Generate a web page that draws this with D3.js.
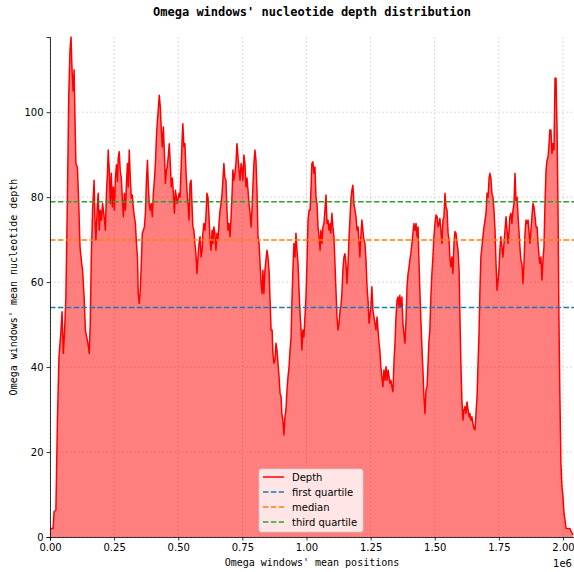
<!DOCTYPE html>
<html>
<head>
<meta charset="utf-8">
<script src="https://cdn.jsdelivr.net/npm/d3@7"></script>
<style>
  html, body { margin: 0; padding: 0; background: #fff; }
  svg { display: block; }
</style>
</head>
<body>
<svg id="chart" width="574" height="572"></svg>
<script>
// ---- Data (positions in kb, mean depth) ----
const depthSeries = [
[0,2],[12,2],[16,6],[23,6.3],[29,27.5],[35,42.4],[42,47.9],[47,53],[52,43.2],[57,48.7],[62,56.5],[68,80],[73,103.6],[78,114.6],[82,117.7],[86,109.9],[90,105],[94,110],[97,99.7],[101,87.9],[107,87],[112,78.5],[117,68.3],[122,65.2],[127,62.8],[133,56.5],[138,48.7],[143,47.1],[148,45.6],[153,43.2],[157,50.3],[161,65.6],[166,76.9],[172,84],[175,75.4],[179,69.9],[185,78.5],[188,80.9],[192,72.2],[196,76.9],[200,74.6],[205,78.5],[211,75.4],[216,72.2],[220,80.9],[224,85.6],[227,91.1],[231,86.4],[235,78.5],[239,85.6],[243,77.7],[247,82.4],[251,76.9],[255,84.5],[259,87.6],[263,83.7],[266,89.2],[270,90.7],[274,86.1],[278,84.5],[282,79.8],[286,75.4],[290,80.9],[294,76.9],[298,83.2],[302,87.9],[305,82.4],[309,91.1],[313,84.5],[317,79.8],[321,80.5],[325,77.4],[329,75.4],[333,73.8],[337,69.1],[341,66],[344,57.3],[348,55],[352,58.1],[356,64.4],[360,71.5],[364,72.2],[368,73],[372,76.2],[376,84],[380,88.7],[383,83.2],[387,78.5],[391,76.9],[395,78.5],[399,75.4],[403,80.9],[407,84],[411,87.9],[415,94.2],[418,97.3],[422,100.5],[426,104],[430,101.2],[434,95.8],[438,91.8],[442,96.5],[446,90.3],[450,83.2],[454,86.4],[457,87.1],[461,89.5],[465,92.6],[469,87.9],[473,82.4],[477,84.5],[481,80.9],[485,76.2],[489,81.6],[493,80],[496,78.5],
[503,80.9],[507,80],[511,86.4],[515,93.4],[518,97.3],[522,91.8],[526,92.6],[530,86.4],[534,81.6],[538,78.5],[542,74.6],[546,83.2],[550,84],[554,77.7],[557,73],[561,72.2],[565,69.1],[569,66.7],[573,62],[577,65.9],[581,69.1],[585,70.7],[589,65.9],[593,67.5],[596,71.5],[600,73.8],[604,72.2],[608,75.4],[612,80.9],[616,80],[620,75.4],[624,69.9],[628,67.5],[632,72.2],[635,69.1],[639,73],[643,71.5],[647,67.5],[651,71.5],[655,69.9],[659,73.8],[663,76.9],[667,78.5],[671,80.9],[674,84],[678,87.9],[682,84.5],[686,84],[690,76.9],[694,72.2],[698,73.8],[702,70.7],[706,75.4],[710,80.9],[713,86.4],[717,84],[721,85.6],[725,87.9],[729,92.6],[733,89.5],[737,86.4],[741,84],[745,87.9],[749,86.4],[752,84],[756,89.9],[760,87.9],[764,82.4],[768,84.5],[772,81.6],[776,78.5],[780,76.2],[784,73],[788,77.7],[791,82.4],[795,87.9],[799,91.1],[803,88.7],[807,81.6],[811,70.7],[815,69.1],[819,64.4],[823,59.7],[827,57.3],[830,62.8],[834,57.3],[838,62.8],[842,65.2],[846,67.5],[850,65.9],[854,62.8],[858,55.7],[862,48.7],[866,48.7],[869,43.2],[873,40.9],[877,41.6],[881,45.6],[885,44],[889,40.9],[893,37.7],[897,33.8],[901,33],[904,29.1],[908,27.5],[912,24],[916,28.3],[920,29.9],[924,34.6],[928,37.7],[932,40.1],[936,44],[940,47.1],[943,55],[947,62.8],[951,69.1],[955,65.9],[959,71.5],[963,67.5],[967,64.4],[971,58.1],[975,52.6],[979,48.7],[982,44],[986,48.7],[990,47.1],[994,51.8],[998,56.5],[1002,64.4],[1006,74.6],[1010,76.9],
[1014,76.9],[1018,82.4],[1021,87.9],[1025,88.3],[1029,85.6],[1033,87.1],[1037,80],[1041,78.5],[1045,73],[1049,70.7],[1053,67.5],[1056,72.2],[1060,69.1],[1064,73],[1068,73.8],[1072,76.9],[1076,80.5],[1080,73.8],[1084,74.6],[1088,72.2],[1092,73.8],[1095,71.5],[1099,76.2],[1103,73],[1107,70.7],[1111,64.4],[1115,58.1],[1119,51.8],[1123,48.7],[1127,50.3],[1131,53.4],[1134,54.2],[1138,57.3],[1142,62.8],[1146,65.9],[1150,66.7],[1154,64.4],[1158,59.7],[1162,64.4],[1166,70.7],[1170,75.4],[1173,79.2],[1177,81.6],[1181,82.8],[1185,78.5],[1189,76.9],[1193,75.4],[1197,72.2],[1201,73],[1205,69.1],[1208,65.9],[1212,70.7],[1216,74.6],[1220,72.2],[1224,69.9],[1228,69.1],[1232,65.2],[1236,58.9],[1240,55.7],[1244,50.3],[1247,51.8],[1251,54.2],[1255,58.9],[1259,53.4],[1263,51.8],[1267,50.3],[1271,48.7],[1275,51.8],[1279,48.7],[1283,45.6],[1286,44],[1290,40.1],[1294,37.7],[1298,35.4],[1302,39.3],[1306,36.9],[1310,40.1],[1314,36.9],[1318,39.3],[1322,37.7],[1325,36.2],[1329,36.9],[1333,35.4],[1337,34.2],[1341,40.9],[1345,45.6],[1349,51.8],[1353,55.7],[1357,56.5],[1361,54.2],[1364,56.9],[1368,54.2],[1372,56.5],[1376,50.3],[1380,47.8],[1384,45.6],[1388,51.1],[1392,58.9],[1396,62],[1400,63.6],[1403,65.2],[1407,66.7],[1411,69.1],[1415,71.5],[1419,73.8],[1423,72.2],[1427,73.8],[1431,70.7],[1435,73],[1438,65.9],[1442,58.1],[1446,51.1],[1450,44.8],[1454,39.3],[1458,33],[1462,29.1],[1466,34.6],[1470,35.4],[1474,40.9],[1477,45.6],[1481,48.7],[1485,56.5],[1489,62],[1493,65.9],[1497,70.7],[1501,73.8],[1505,75.8],[1509,75.4],[1513,73],
[1517,73.8],[1520,75],[1524,72.2],[1528,69.1],[1532,74.6],[1536,75.4],[1540,80.9],[1544,77.7],[1548,76.9],[1552,71.5],[1556,69.9],[1559,65.9],[1563,63.6],[1567,65.9],[1571,62],[1575,69.1],[1579,71.9],[1583,71.5],[1587,69.1],[1591,67.5],[1595,62.8],[1598,52.6],[1602,40.9],[1606,32.2],[1610,27.5],[1614,29.9],[1618,30.7],[1622,29.1],[1626,31.8],[1630,29.9],[1634,28.3],[1637,29.1],[1641,27.5],[1645,28.3],[1649,26.7],[1653,25.6],[1657,25.2],[1661,29.1],[1665,33],[1669,40.9],[1673,48.7],[1676,57.3],[1680,65.9],[1684,68.3],[1688,70.7],[1692,73],[1696,74.6],[1700,76.2],[1704,80.9],[1708,80],[1712,84.5],[1715,85.6],[1719,84.5],[1723,80.9],[1727,80],[1731,76.9],[1735,72.2],[1739,64.4],[1743,58.1],[1747,60.5],[1751,63.6],[1754,67.5],[1758,70.7],[1762,68.3],[1766,65.9],[1770,69.1],[1774,72.2],[1778,75.4],[1782,72.2],[1786,69.1],[1790,72.2],[1793,75.4],[1797,76.2],[1801,73.8],[1805,76.9],[1809,78.5],[1813,85.6],[1817,79.2],[1821,80],[1825,75.4],[1829,71.5],[1832,68.3],[1836,65.2],[1840,64.4],[1844,59.7],[1848,64.4],[1852,71.5],[1856,74.6],[1860,73.8],[1864,74.6],[1868,71.5],[1871,69.1],[1875,72.2],[1879,75.4],[1883,78.5],[1887,77.7],[1891,75.4],[1895,73],[1899,73],[1903,69.1],[1907,65.9],[1910,64.4],[1914,65.9],[1918,60.5],[1922,65.2],[1926,68.3],[1930,78.5],[1934,86.4],[1938,88.7],[1942,89.5],[1945,91.8],[1949,95.8],[1953,95.8],[1957,90.3],[1961,92.6],[1965,91.1],[1969,108],[1973,108],[1977,95.8],[1981,75.4],[1984,52.6],[1988,33],[1992,17.3],[1996,11.8],[2000,9.5],[2004,5.6],[2008,4],[2012,2],[2020,2],[2027,2],[2035,0.9],[2039,0.5]
];

const quartileNames = ["first quartile", "median", "third quartile"];
const quartileValues = [54.0, 69.9, 78.9];
const quartileColors = ["#1f77b4", "#ff7f0e", "#2ca02c"];

const xTickValuesKb = [0, 250, 500, 750, 1000, 1250, 1500, 1750, 2000];
const yTickValues = [0, 20, 40, 60, 80, 100];

const titleText = "Omega windows' nucleotide depth distribution";
const xLabelText = "Omega windows' mean positions";
const yLabelText = "Omega windows' mean nucleotide depth";

// ---- Layout ----
const W = 574, H = 572;
const plot = { left: 50, right: 574, top: 37, bottom: 537 };
const mono = "'DejaVu Sans Mono', monospace";
const sans = "'DejaVu Sans', sans-serif";

const svg = d3.select("#chart");

const x = d3.scaleLinear().domain([0, 2043]).range([plot.left, plot.right]);
const yMax = d3.max(depthSeries, d => d[1]);
const y = d3.scaleLinear().domain([0, yMax]).range([plot.bottom, plot.top]);

svg.append("defs").append("clipPath").attr("id", "clip")
  .append("rect").attr("x", plot.left).attr("y", plot.top - 1)
  .attr("width", plot.right - plot.left).attr("height", plot.bottom - plot.top + 1);

// grid
const grid = svg.append("g");
grid.selectAll(".gx").data(xTickValuesKb).enter().append("line")
  .attr("x1", d => x(d)).attr("x2", d => x(d))
  .attr("y1", plot.top).attr("y2", plot.bottom)
  .attr("stroke", "#b0b0b0").attr("stroke-opacity", 0.6)
  .attr("stroke-width", 0.8).attr("stroke-dasharray", "2,2");
grid.selectAll(".gy").data(yTickValues).enter().append("line")
  .attr("x1", plot.left).attr("x2", plot.right)
  .attr("y1", d => y(d)).attr("y2", d => y(d))
  .attr("stroke", "#b0b0b0").attr("stroke-opacity", 0.6)
  .attr("stroke-width", 0.8).attr("stroke-dasharray", "2,2");

const g = svg.append("g").attr("clip-path", "url(#clip)");

const area = d3.area().x(d => x(d[0])).y0(y(0)).y1(d => y(d[1]));
const line = d3.line().x(d => x(d[0])).y(d => y(d[1]));

g.append("path").datum(depthSeries).attr("d", area)
  .attr("fill", "#ff0000").attr("fill-opacity", 0.5);
g.append("path").datum(depthSeries).attr("d", line)
  .attr("fill", "none").attr("stroke", "#ff0000").attr("stroke-width", 1.5)
  .attr("stroke-linejoin", "round");

// quartile lines
quartileValues.forEach((q, i) => {
  g.append("line")
    .attr("x1", plot.left).attr("x2", plot.right)
    .attr("y1", y(q)).attr("y2", y(q))
    .attr("stroke", quartileColors[i]).attr("stroke-width", 1.5)
    .attr("stroke-dasharray", "5.5,2.4");
});

// axes
const xAxis = d3.axisBottom(x).tickValues(xTickValuesKb)
  .tickFormat(d => (d / 1000).toFixed(2)).tickSizeOuter(0).tickSize(3.5).tickPadding(3);
const yAxis = d3.axisLeft(y).tickValues(yTickValues).tickSizeOuter(0).tickSize(3.5).tickPadding(3);

const gx = svg.append("g").attr("transform", `translate(0,${plot.bottom})`).call(xAxis);
const gy = svg.append("g").attr("transform", `translate(${plot.left},0)`).call(yAxis);
[gx, gy].forEach(a => {
  a.selectAll("text").attr("font-family", sans).attr("font-size", 10).attr("fill", "#000");
  a.selectAll("line").attr("stroke", "#000").attr("stroke-width", 0.8);
  a.select(".domain").attr("stroke", "#000").attr("stroke-width", 0.8);
});

// offset text
svg.append("text").attr("x", 572).attr("y", 567).attr("text-anchor", "end")
  .attr("font-family", sans).attr("font-size", 10).text("1e6");

// labels
svg.append("text").attr("x", (plot.left + plot.right) / 2).attr("y", 16)
  .attr("text-anchor", "middle").attr("font-family", mono).attr("font-weight", "bold")
  .attr("font-size", 12).text(titleText);
svg.append("text").attr("x", (plot.left + plot.right) / 2).attr("y", 566)
  .attr("text-anchor", "middle").attr("font-family", mono).attr("font-size", 10).text(xLabelText);
svg.append("text").attr("transform", `translate(17,${(plot.top + plot.bottom) / 2}) rotate(-90)`)
  .attr("text-anchor", "middle").attr("font-family", mono).attr("font-size", 10).text(yLabelText);

// legend
const legendItems = [{ name: "Depth", color: "#ff0000", dash: null }]
  .concat(quartileNames.map((n, i) => ({ name: n, color: quartileColors[i], dash: "5.5,2.4" })));
const lg = svg.append("g").attr("transform", "translate(259,469)");
lg.append("rect").attr("width", 104).attr("height", 63).attr("rx", 2.5)
  .attr("fill", "#fff").attr("fill-opacity", 0.8).attr("stroke", "#cccccc").attr("stroke-width", 0.8);
legendItems.forEach((it, i) => {
  const yy = 8 + i * 15;
  lg.append("line").attr("x1", 4).attr("x2", 25).attr("y1", yy).attr("y2", yy)
    .attr("stroke", it.color).attr("stroke-width", 1.5)
    .attr("stroke-dasharray", it.dash);
  lg.append("text").attr("x", 33).attr("y", yy + 3.5).attr("font-family", sans)
    .attr("font-size", 10).text(it.name);
});
</script>
</body>
</html>
